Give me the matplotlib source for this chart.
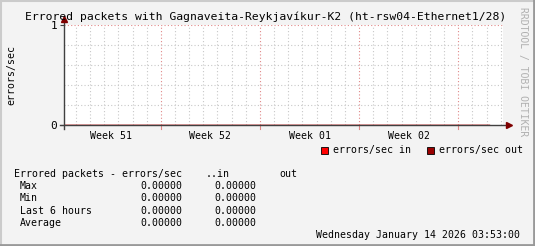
import datetime as dt
import matplotlib
matplotlib.use('Agg')
import matplotlib.pyplot as plt
import matplotlib.dates as mdates
from matplotlib.lines import Line2D

# data
title = 'Errored packets with Gagnaveita-Reykjavíkur-K2 (ht-rsw04-Ethernet1/28)'
start = dt.datetime(2025, 12, 15, 3, 53)
end = dt.datetime(2026, 1, 15, 3, 53)
sample_days = [dt.datetime(2025, 12, 15, 3, 53), dt.datetime(2025, 12, 22), dt.datetime(2025, 12, 29),
               dt.datetime(2026, 1, 5), dt.datetime(2026, 1, 12), dt.datetime(2026, 1, 14, 3, 53)]
errors_in = [0, 0, 0, 0, 0, 0]
errors_out = [0, 0, 0, 0, 0, 0]
week_starts = [dt.datetime(2025, 12, 15), dt.datetime(2025, 12, 22), dt.datetime(2025, 12, 29),
               dt.datetime(2026, 1, 5), dt.datetime(2026, 1, 12)]
week_labels = ['Week 51', 'Week 52', 'Week 01', 'Week 02']
stat_names = ['Max', 'Min', 'Last 6 hours', 'Average']
stat_in = [0.0, 0.0, 0.0, 0.0]
stat_out = [0.0, 0.0, 0.0, 0.0]
timestamp = 'Wednesday January 14 2026 03:53:00'

W, H = 535, 246
plt.rcParams['font.family'] = 'DejaVu Sans Mono'

fig = plt.figure(figsize=(W / 100, H / 100), dpi=100)
fig.patch.set_facecolor('#f3f3f3')

def fx(px):
    return px / W

def fy(py):
    return 1 - py / H

L, R, T, B = 64, 503, 25, 125
ax = fig.add_axes([fx(L), fy(B), fx(R) - fx(L), fy(T) - fy(B)])
ax.set_facecolor('white')
for s in ax.spines.values():
    s.set_visible(False)

ax.set_xlim(start, end)
ax.set_ylim(0, 1)

# grid: daily minor, weekly major
d = dt.datetime(2025, 12, 16)
while d <= end:
    if d.weekday() != 0:
        ax.axvline(d, color='#c8c8c8', lw=0.8, ls=(0, (1, 2)), zorder=1)
    d += dt.timedelta(days=1)
for w in week_starts:
    if start <= w <= end:
        ax.axvline(w, color='#e08888', lw=0.8, ls=(0, (1, 2)), zorder=1)
        ax.plot([w, w], [0, -0.04], color='#e08888', lw=0.8, clip_on=False, zorder=1)
for yv in [0.2, 0.4, 0.6, 0.8]:
    ax.axhline(yv, color='#c8c8c8', lw=0.8, ls=(0, (1, 2)), zorder=1)
ax.axhline(1.0, color='#e08888', lw=0.8, ls=(0, (1, 2)), zorder=1)

# data lines (all zero, sit under the axis line)
ax.plot(sample_days, errors_in, color='#ff0000', lw=1, zorder=2)
ax.plot(sample_days, errors_out, color='#990000', lw=1, zorder=2)

# axes with arrows
tr = ax.transAxes
ax.plot([-0.01, 1.012], [0, 0], transform=tr, color='#404040', lw=1, clip_on=False, zorder=4)
ax.plot([0, 0], [-0.04, 1.05], transform=tr, color='#404040', lw=1, clip_on=False, zorder=4)
ax.plot([1.0145], [0], transform=tr, marker='>', ms=4.5, color='#7f0000', mec='#7f0000', clip_on=False, zorder=5)
ax.plot([0], [1.06], transform=tr, marker='^', ms=4.5, color='#7f0000', mec='#7f0000', clip_on=False, zorder=5)

ax.set_yticks([0, 1])
ax.set_yticklabels(['0', '1'], fontsize=8)
ax.tick_params(axis='y', length=3, width=0.8, color='#404040', pad=2)
centers = [week_starts[i] + (week_starts[i + 1] - week_starts[i]) / 2 for i in range(len(week_labels))]
ax.set_xticks([mdates.date2num(c) for c in centers])
ax.set_xticklabels(week_labels, fontsize=7.1)
ax.tick_params(axis='x', length=0, pad=4)

fig.text(fx(11), fy(75), 'errors/sec', rotation=90, ha='center', va='center', fontsize=7.1)
fig.text(fx(266), fy(17), title, ha='center', va='center', fontsize=8.2)
fig.text(fx(523), fy(72), 'RRDTOOL / TOBI OETIKER', rotation=-90, ha='center', va='center',
         fontsize=7, color='#b0b0b0')

# legend boxes
for x0, col, lab in [(321, '#ff0000', 'errors/sec in'), (427, '#990000', 'errors/sec out')]:
    fig.patches.append(plt.Rectangle((fx(x0), fy(154)), fx(7), 7 / H, transform=fig.transFigure,
                                     facecolor=col, edgecolor='black', lw=0.6))
    fig.text(fx(x0 + 12), fy(150), lab, ha='left', va='center', fontsize=7.1)

# stats table
fig.text(fx(14), fy(174), 'Errored packets - errors/sec', ha='left', va='center', fontsize=7.1)
fig.text(fx(206), fy(174), '..in', ha='left', va='center', fontsize=7.1)
fig.text(fx(279), fy(174), 'out', ha='left', va='center', fontsize=7.1)
rows_y = [186, 198, 210.5, 223]
for name, vi, vo, yy in zip(stat_names, stat_in, stat_out, rows_y):
    fig.text(fx(20), fy(yy), name, ha='left', va='center', fontsize=7.1)
    fig.text(fx(182), fy(yy), '%.5f' % vi, ha='right', va='center', fontsize=7.1)
    fig.text(fx(256), fy(yy), '%.5f' % vo, ha='right', va='center', fontsize=7.1)
fig.text(fx(520), fy(235), timestamp, ha='right', va='center', fontsize=7.1)

# frame shading
fig.add_artist(Line2D([0, 1], [1 - 1 / H, 1 - 1 / H], transform=fig.transFigure, color='#cbcbcb', lw=1.5))
fig.add_artist(Line2D([0.5 / W, 0.5 / W], [0, 1], transform=fig.transFigure, color='#cbcbcb', lw=1.5))
fig.add_artist(Line2D([1 - 1 / W, 1 - 1 / W], [0, 1], transform=fig.transFigure, color='#999999', lw=2))
fig.add_artist(Line2D([0, 1], [1 / H, 1 / H], transform=fig.transFigure, color='#999999', lw=2))

fig.savefig('out.png', dpi=100, facecolor=fig.get_facecolor())
